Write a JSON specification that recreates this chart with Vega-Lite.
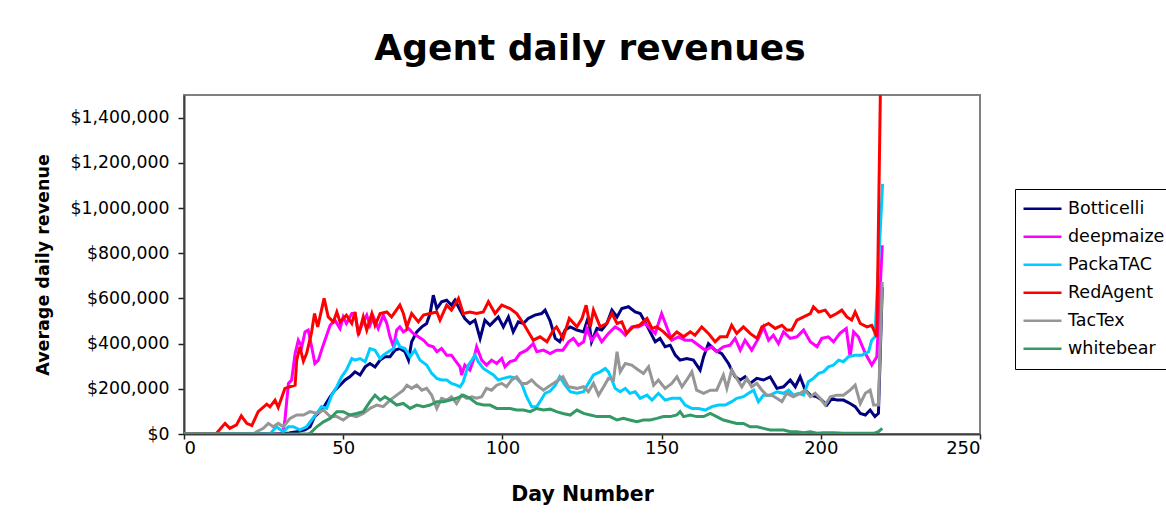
{
  "$schema": "https://vega.github.io/schema/vega-lite/v6.json",
  "width": 796,
  "height": 339,
  "autosize": {"type": "none"},
  "padding": {"left": 184, "top": 95, "right": 186, "bottom": 91},
  "background": "white",
  "title": {"text": "Agent daily revenues", "fontSize": 36, "fontWeight": "bold", "font": "DejaVu Sans", "color": "black", "anchor": "middle", "frame": "group", "offset": 27, "dx": 8},
  "config": {
    "font": "DejaVu Sans",
    "view": {"stroke": "#808080", "strokeWidth": 2},
    "axis": {"grid": false, "domainColor": "#404040", "domainWidth": 2, "tickColor": "#202020", "tickWidth": 1.5, "tickSize": 6, "labelColor": "black", "labelFont": "DejaVu Sans", "titleColor": "black", "titleFont": "DejaVu Sans", "titleFontWeight": "bold"}
  },
  "datasets": {
    "rev": [
      {"s":"Botticelli","d":0,"v":0},{"s":"Botticelli","d":29,"v":0},{"s":"Botticelli","d":33,"v":5000},{"s":"Botticelli","d":35.4,"v":10000},{"s":"Botticelli","d":38,"v":18000},{"s":"Botticelli","d":39.6,"v":32000},{"s":"Botticelli","d":41,"v":77000},{"s":"Botticelli","d":42.7,"v":99000},{"s":"Botticelli","d":44.3,"v":128000},{"s":"Botticelli","d":45.9,"v":165000},{"s":"Botticelli","d":47.4,"v":194000},{"s":"Botticelli","d":49,"v":216000},{"s":"Botticelli","d":50.6,"v":239000},{"s":"Botticelli","d":52.1,"v":253000},{"s":"Botticelli","d":53.7,"v":275000},{"s":"Botticelli","d":55.3,"v":261000},{"s":"Botticelli","d":56.9,"v":297000},{"s":"Botticelli","d":58.4,"v":312000},{"s":"Botticelli","d":60,"v":297000},{"s":"Botticelli","d":61.6,"v":327000},{"s":"Botticelli","d":63.1,"v":342000},{"s":"Botticelli","d":64.7,"v":342000},{"s":"Botticelli","d":66.3,"v":371000},{"s":"Botticelli","d":67.8,"v":378000},{"s":"Botticelli","d":69.4,"v":364000},{"s":"Botticelli","d":70.5,"v":327000},{"s":"Botticelli","d":71.5,"v":408000},{"s":"Botticelli","d":73.1,"v":452000},{"s":"Botticelli","d":74.7,"v":474000},{"s":"Botticelli","d":76.2,"v":489000},{"s":"Botticelli","d":77.3,"v":533000},{"s":"Botticelli","d":78.3,"v":614000},{"s":"Botticelli","d":79.4,"v":555000},{"s":"Botticelli","d":80.9,"v":585000},{"s":"Botticelli","d":82.5,"v":592000},{"s":"Botticelli","d":84,"v":570000},{"s":"Botticelli","d":85.1,"v":592000},{"s":"Botticelli","d":86.7,"v":548000},{"s":"Botticelli","d":88.2,"v":511000},{"s":"Botticelli","d":89.8,"v":489000},{"s":"Botticelli","d":91.4,"v":504000},{"s":"Botticelli","d":93,"v":423000},{"s":"Botticelli","d":94.5,"v":504000},{"s":"Botticelli","d":96.1,"v":481000},{"s":"Botticelli","d":97.7,"v":504000},{"s":"Botticelli","d":98.7,"v":518000},{"s":"Botticelli","d":100.3,"v":474000},{"s":"Botticelli","d":101.9,"v":518000},{"s":"Botticelli","d":103.4,"v":452000},{"s":"Botticelli","d":105,"v":496000},{"s":"Botticelli","d":106.6,"v":489000},{"s":"Botticelli","d":108.1,"v":511000},{"s":"Botticelli","d":110.2,"v":526000},{"s":"Botticelli","d":112.3,"v":533000},{"s":"Botticelli","d":113.4,"v":548000},{"s":"Botticelli","d":115,"v":500000},{"s":"Botticelli","d":116.6,"v":423000},{"s":"Botticelli","d":118,"v":408000},{"s":"Botticelli","d":119.7,"v":460000},{"s":"Botticelli","d":121.3,"v":474000},{"s":"Botticelli","d":123.4,"v":460000},{"s":"Botticelli","d":125.5,"v":452000},{"s":"Botticelli","d":127,"v":518000},{"s":"Botticelli","d":128,"v":408000},{"s":"Botticelli","d":129.7,"v":467000},{"s":"Botticelli","d":131.2,"v":460000},{"s":"Botticelli","d":132.8,"v":489000},{"s":"Botticelli","d":134.4,"v":548000},{"s":"Botticelli","d":136,"v":518000},{"s":"Botticelli","d":137.5,"v":555000},{"s":"Botticelli","d":139.6,"v":563000},{"s":"Botticelli","d":141.7,"v":540000},{"s":"Botticelli","d":143.3,"v":533000},{"s":"Botticelli","d":144.8,"v":496000},{"s":"Botticelli","d":146.4,"v":452000},{"s":"Botticelli","d":148,"v":408000},{"s":"Botticelli","d":149.5,"v":423000},{"s":"Botticelli","d":151.1,"v":386000},{"s":"Botticelli","d":152.7,"v":393000},{"s":"Botticelli","d":154.3,"v":349000},{"s":"Botticelli","d":155.8,"v":327000},{"s":"Botticelli","d":157.9,"v":334000},{"s":"Botticelli","d":160,"v":327000},{"s":"Botticelli","d":162.1,"v":283000},{"s":"Botticelli","d":163.2,"v":342000},{"s":"Botticelli","d":164.7,"v":400000},{"s":"Botticelli","d":166.8,"v":371000},{"s":"Botticelli","d":168.9,"v":356000},{"s":"Botticelli","d":171,"v":312000},{"s":"Botticelli","d":173.1,"v":253000},{"s":"Botticelli","d":174.7,"v":239000},{"s":"Botticelli","d":176.2,"v":253000},{"s":"Botticelli","d":177.8,"v":224000},{"s":"Botticelli","d":179.9,"v":246000},{"s":"Botticelli","d":182,"v":239000},{"s":"Botticelli","d":184.1,"v":253000},{"s":"Botticelli","d":186.2,"v":202000},{"s":"Botticelli","d":188.3,"v":209000},{"s":"Botticelli","d":190.4,"v":239000},{"s":"Botticelli","d":192,"v":209000},{"s":"Botticelli","d":193.5,"v":253000},{"s":"Botticelli","d":195.1,"v":194000},{"s":"Botticelli","d":196.7,"v":172000},{"s":"Botticelli","d":198.8,"v":165000},{"s":"Botticelli","d":200.3,"v":150000},{"s":"Botticelli","d":201.9,"v":128000},{"s":"Botticelli","d":203.5,"v":158000},{"s":"Botticelli","d":205,"v":150000},{"s":"Botticelli","d":207.1,"v":150000},{"s":"Botticelli","d":209.2,"v":135000},{"s":"Botticelli","d":210.8,"v":121000},{"s":"Botticelli","d":212.4,"v":91000},{"s":"Botticelli","d":214,"v":84000},{"s":"Botticelli","d":215.5,"v":106000},{"s":"Botticelli","d":217,"v":77000},{"s":"Botticelli","d":218.1,"v":91000},{"s":"Botticelli","d":219.3,"v":650000},
      {"s":"deepmaize","d":0,"v":0},{"s":"deepmaize","d":31,"v":0},{"s":"deepmaize","d":31.7,"v":62000},{"s":"deepmaize","d":32.8,"v":224000},{"s":"deepmaize","d":33.8,"v":239000},{"s":"deepmaize","d":34.9,"v":356000},{"s":"deepmaize","d":35.9,"v":415000},{"s":"deepmaize","d":37,"v":386000},{"s":"deepmaize","d":38,"v":452000},{"s":"deepmaize","d":39,"v":460000},{"s":"deepmaize","d":40.1,"v":386000},{"s":"deepmaize","d":41.1,"v":312000},{"s":"deepmaize","d":42.2,"v":327000},{"s":"deepmaize","d":43.2,"v":371000},{"s":"deepmaize","d":44.8,"v":437000},{"s":"deepmaize","d":45.9,"v":481000},{"s":"deepmaize","d":47.4,"v":504000},{"s":"deepmaize","d":49,"v":467000},{"s":"deepmaize","d":50,"v":518000},{"s":"deepmaize","d":51,"v":489000},{"s":"deepmaize","d":52.7,"v":533000},{"s":"deepmaize","d":53.7,"v":533000},{"s":"deepmaize","d":54.8,"v":445000},{"s":"deepmaize","d":56.3,"v":496000},{"s":"deepmaize","d":57.4,"v":526000},{"s":"deepmaize","d":58.4,"v":481000},{"s":"deepmaize","d":59.5,"v":518000},{"s":"deepmaize","d":61,"v":467000},{"s":"deepmaize","d":62.6,"v":526000},{"s":"deepmaize","d":63.7,"v":489000},{"s":"deepmaize","d":64.7,"v":430000},{"s":"deepmaize","d":65.8,"v":386000},{"s":"deepmaize","d":66.8,"v":460000},{"s":"deepmaize","d":67.8,"v":474000},{"s":"deepmaize","d":68.9,"v":452000},{"s":"deepmaize","d":70.5,"v":467000},{"s":"deepmaize","d":72,"v":445000},{"s":"deepmaize","d":73.6,"v":430000},{"s":"deepmaize","d":75.2,"v":415000},{"s":"deepmaize","d":76.7,"v":393000},{"s":"deepmaize","d":78.3,"v":386000},{"s":"deepmaize","d":79.4,"v":364000},{"s":"deepmaize","d":80.9,"v":378000},{"s":"deepmaize","d":82.5,"v":349000},{"s":"deepmaize","d":84,"v":349000},{"s":"deepmaize","d":85.1,"v":327000},{"s":"deepmaize","d":86.7,"v":297000},{"s":"deepmaize","d":87.2,"v":261000},{"s":"deepmaize","d":88.2,"v":305000},{"s":"deepmaize","d":89.8,"v":283000},{"s":"deepmaize","d":90.9,"v":327000},{"s":"deepmaize","d":91.9,"v":386000},{"s":"deepmaize","d":93.5,"v":327000},{"s":"deepmaize","d":95,"v":305000},{"s":"deepmaize","d":96.6,"v":327000},{"s":"deepmaize","d":98.2,"v":312000},{"s":"deepmaize","d":99.8,"v":334000},{"s":"deepmaize","d":100.8,"v":297000},{"s":"deepmaize","d":102.4,"v":320000},{"s":"deepmaize","d":104,"v":327000},{"s":"deepmaize","d":105.5,"v":356000},{"s":"deepmaize","d":107.6,"v":371000},{"s":"deepmaize","d":109.7,"v":400000},{"s":"deepmaize","d":110.8,"v":364000},{"s":"deepmaize","d":112.9,"v":371000},{"s":"deepmaize","d":115,"v":356000},{"s":"deepmaize","d":117,"v":371000},{"s":"deepmaize","d":119,"v":371000},{"s":"deepmaize","d":120.8,"v":408000},{"s":"deepmaize","d":122.3,"v":423000},{"s":"deepmaize","d":123.9,"v":393000},{"s":"deepmaize","d":125.5,"v":408000},{"s":"deepmaize","d":126.5,"v":467000},{"s":"deepmaize","d":128,"v":415000},{"s":"deepmaize","d":129.7,"v":445000},{"s":"deepmaize","d":131.2,"v":408000},{"s":"deepmaize","d":133.3,"v":445000},{"s":"deepmaize","d":135.4,"v":474000},{"s":"deepmaize","d":137,"v":460000},{"s":"deepmaize","d":138.6,"v":437000},{"s":"deepmaize","d":140.6,"v":474000},{"s":"deepmaize","d":142.7,"v":474000},{"s":"deepmaize","d":144.8,"v":489000},{"s":"deepmaize","d":146.4,"v":467000},{"s":"deepmaize","d":148,"v":445000},{"s":"deepmaize","d":150,"v":533000},{"s":"deepmaize","d":151.6,"v":474000},{"s":"deepmaize","d":153.2,"v":415000},{"s":"deepmaize","d":155.3,"v":430000},{"s":"deepmaize","d":157.4,"v":415000},{"s":"deepmaize","d":159.5,"v":415000},{"s":"deepmaize","d":161.6,"v":393000},{"s":"deepmaize","d":163.7,"v":371000},{"s":"deepmaize","d":165.8,"v":386000},{"s":"deepmaize","d":167.3,"v":364000},{"s":"deepmaize","d":169.4,"v":386000},{"s":"deepmaize","d":171.5,"v":393000},{"s":"deepmaize","d":173.1,"v":423000},{"s":"deepmaize","d":174.7,"v":371000},{"s":"deepmaize","d":176.2,"v":415000},{"s":"deepmaize","d":178.3,"v":371000},{"s":"deepmaize","d":180.4,"v":423000},{"s":"deepmaize","d":182,"v":474000},{"s":"deepmaize","d":183.6,"v":415000},{"s":"deepmaize","d":185.1,"v":437000},{"s":"deepmaize","d":186.7,"v":400000},{"s":"deepmaize","d":188.3,"v":452000},{"s":"deepmaize","d":190.4,"v":423000},{"s":"deepmaize","d":192.5,"v":430000},{"s":"deepmaize","d":194.6,"v":460000},{"s":"deepmaize","d":196.7,"v":408000},{"s":"deepmaize","d":198.8,"v":386000},{"s":"deepmaize","d":200.3,"v":423000},{"s":"deepmaize","d":202.4,"v":430000},{"s":"deepmaize","d":204,"v":408000},{"s":"deepmaize","d":206,"v":445000},{"s":"deepmaize","d":208,"v":467000},{"s":"deepmaize","d":209.2,"v":342000},{"s":"deepmaize","d":210.3,"v":452000},{"s":"deepmaize","d":211.8,"v":430000},{"s":"deepmaize","d":214,"v":356000},{"s":"deepmaize","d":216,"v":305000},{"s":"deepmaize","d":217.6,"v":342000},{"s":"deepmaize","d":219.3,"v":835000},
      {"s":"PackaTAC","d":0,"v":0},{"s":"PackaTAC","d":27,"v":0},{"s":"PackaTAC","d":29,"v":32000},{"s":"PackaTAC","d":31.2,"v":10000},{"s":"PackaTAC","d":32.8,"v":32000},{"s":"PackaTAC","d":34.3,"v":32000},{"s":"PackaTAC","d":36.4,"v":18000},{"s":"PackaTAC","d":38.5,"v":32000},{"s":"PackaTAC","d":40.1,"v":62000},{"s":"PackaTAC","d":41.7,"v":91000},{"s":"PackaTAC","d":43.2,"v":121000},{"s":"PackaTAC","d":44.8,"v":113000},{"s":"PackaTAC","d":46.4,"v":172000},{"s":"PackaTAC","d":48,"v":209000},{"s":"PackaTAC","d":49.5,"v":253000},{"s":"PackaTAC","d":51,"v":283000},{"s":"PackaTAC","d":52.7,"v":334000},{"s":"PackaTAC","d":53.7,"v":327000},{"s":"PackaTAC","d":55.3,"v":334000},{"s":"PackaTAC","d":56.9,"v":320000},{"s":"PackaTAC","d":58.4,"v":378000},{"s":"PackaTAC","d":60,"v":371000},{"s":"PackaTAC","d":61.6,"v":334000},{"s":"PackaTAC","d":62.6,"v":349000},{"s":"PackaTAC","d":64.2,"v":364000},{"s":"PackaTAC","d":65.8,"v":378000},{"s":"PackaTAC","d":66.8,"v":415000},{"s":"PackaTAC","d":67.8,"v":386000},{"s":"PackaTAC","d":69.4,"v":378000},{"s":"PackaTAC","d":71,"v":342000},{"s":"PackaTAC","d":72.5,"v":371000},{"s":"PackaTAC","d":74.1,"v":327000},{"s":"PackaTAC","d":76.2,"v":305000},{"s":"PackaTAC","d":77.8,"v":268000},{"s":"PackaTAC","d":79.4,"v":246000},{"s":"PackaTAC","d":80.9,"v":239000},{"s":"PackaTAC","d":82.5,"v":239000},{"s":"PackaTAC","d":84,"v":224000},{"s":"PackaTAC","d":85.6,"v":216000},{"s":"PackaTAC","d":86.7,"v":209000},{"s":"PackaTAC","d":87.7,"v":231000},{"s":"PackaTAC","d":89.3,"v":305000},{"s":"PackaTAC","d":90.4,"v":327000},{"s":"PackaTAC","d":91.4,"v":349000},{"s":"PackaTAC","d":92.4,"v":320000},{"s":"PackaTAC","d":94,"v":290000},{"s":"PackaTAC","d":95.6,"v":275000},{"s":"PackaTAC","d":97.2,"v":261000},{"s":"PackaTAC","d":98.7,"v":239000},{"s":"PackaTAC","d":100.3,"v":246000},{"s":"PackaTAC","d":102.4,"v":253000},{"s":"PackaTAC","d":104.5,"v":246000},{"s":"PackaTAC","d":106,"v":224000},{"s":"PackaTAC","d":107.6,"v":165000},{"s":"PackaTAC","d":109.2,"v":121000},{"s":"PackaTAC","d":110.8,"v":121000},{"s":"PackaTAC","d":111.8,"v":143000},{"s":"PackaTAC","d":113.4,"v":180000},{"s":"PackaTAC","d":115,"v":190000},{"s":"PackaTAC","d":116.6,"v":215000},{"s":"PackaTAC","d":118,"v":253000},{"s":"PackaTAC","d":119.7,"v":216000},{"s":"PackaTAC","d":121.3,"v":187000},{"s":"PackaTAC","d":123.4,"v":180000},{"s":"PackaTAC","d":125.5,"v":187000},{"s":"PackaTAC","d":127,"v":224000},{"s":"PackaTAC","d":128.6,"v":261000},{"s":"PackaTAC","d":130.7,"v":275000},{"s":"PackaTAC","d":132.3,"v":290000},{"s":"PackaTAC","d":133.3,"v":275000},{"s":"PackaTAC","d":134.4,"v":239000},{"s":"PackaTAC","d":135.4,"v":202000},{"s":"PackaTAC","d":137,"v":187000},{"s":"PackaTAC","d":138.6,"v":202000},{"s":"PackaTAC","d":140,"v":180000},{"s":"PackaTAC","d":141.7,"v":187000},{"s":"PackaTAC","d":143.3,"v":158000},{"s":"PackaTAC","d":145.4,"v":172000},{"s":"PackaTAC","d":147,"v":150000},{"s":"PackaTAC","d":149,"v":180000},{"s":"PackaTAC","d":151.1,"v":150000},{"s":"PackaTAC","d":153.2,"v":158000},{"s":"PackaTAC","d":155.8,"v":158000},{"s":"PackaTAC","d":157.4,"v":128000},{"s":"PackaTAC","d":159.5,"v":113000},{"s":"PackaTAC","d":161.6,"v":113000},{"s":"PackaTAC","d":163.7,"v":106000},{"s":"PackaTAC","d":165.8,"v":121000},{"s":"PackaTAC","d":167.9,"v":128000},{"s":"PackaTAC","d":170,"v":128000},{"s":"PackaTAC","d":172,"v":143000},{"s":"PackaTAC","d":173.6,"v":158000},{"s":"PackaTAC","d":175.7,"v":165000},{"s":"PackaTAC","d":177.3,"v":180000},{"s":"PackaTAC","d":178.9,"v":194000},{"s":"PackaTAC","d":180.4,"v":143000},{"s":"PackaTAC","d":182,"v":172000},{"s":"PackaTAC","d":184.1,"v":172000},{"s":"PackaTAC","d":186.2,"v":187000},{"s":"PackaTAC","d":188.3,"v":180000},{"s":"PackaTAC","d":189.9,"v":194000},{"s":"PackaTAC","d":191.4,"v":172000},{"s":"PackaTAC","d":193,"v":180000},{"s":"PackaTAC","d":194.6,"v":172000},{"s":"PackaTAC","d":196.1,"v":231000},{"s":"PackaTAC","d":197.7,"v":246000},{"s":"PackaTAC","d":199.3,"v":268000},{"s":"PackaTAC","d":200.8,"v":275000},{"s":"PackaTAC","d":202.4,"v":297000},{"s":"PackaTAC","d":204,"v":305000},{"s":"PackaTAC","d":205.6,"v":327000},{"s":"PackaTAC","d":207.1,"v":320000},{"s":"PackaTAC","d":208.7,"v":342000},{"s":"PackaTAC","d":210.8,"v":349000},{"s":"PackaTAC","d":212.9,"v":349000},{"s":"PackaTAC","d":215,"v":364000},{"s":"PackaTAC","d":216,"v":415000},{"s":"PackaTAC","d":217,"v":430000},{"s":"PackaTAC","d":219.4,"v":1107000},
      {"s":"RedAgent","d":0,"v":0},{"s":"RedAgent","d":10,"v":0},{"s":"RedAgent","d":12.9,"v":47000},{"s":"RedAgent","d":14.4,"v":25000},{"s":"RedAgent","d":16.5,"v":40000},{"s":"RedAgent","d":18,"v":80000},{"s":"RedAgent","d":19.7,"v":47000},{"s":"RedAgent","d":21.3,"v":37000},{"s":"RedAgent","d":23.3,"v":99000},{"s":"RedAgent","d":26,"v":132000},{"s":"RedAgent","d":27,"v":120000},{"s":"RedAgent","d":28.6,"v":150000},{"s":"RedAgent","d":29.6,"v":118000},{"s":"RedAgent","d":31.7,"v":202000},{"s":"RedAgent","d":34.9,"v":216000},{"s":"RedAgent","d":35.4,"v":327000},{"s":"RedAgent","d":36.4,"v":386000},{"s":"RedAgent","d":37.5,"v":322000},{"s":"RedAgent","d":38.5,"v":356000},{"s":"RedAgent","d":40,"v":445000},{"s":"RedAgent","d":41,"v":533000},{"s":"RedAgent","d":42,"v":474000},{"s":"RedAgent","d":44,"v":600000},{"s":"RedAgent","d":45.3,"v":518000},{"s":"RedAgent","d":46.9,"v":496000},{"s":"RedAgent","d":48,"v":540000},{"s":"RedAgent","d":49,"v":496000},{"s":"RedAgent","d":51,"v":526000},{"s":"RedAgent","d":52.7,"v":489000},{"s":"RedAgent","d":53.7,"v":540000},{"s":"RedAgent","d":54.8,"v":437000},{"s":"RedAgent","d":56.3,"v":518000},{"s":"RedAgent","d":57.4,"v":460000},{"s":"RedAgent","d":59,"v":533000},{"s":"RedAgent","d":60,"v":481000},{"s":"RedAgent","d":61.6,"v":533000},{"s":"RedAgent","d":63.7,"v":540000},{"s":"RedAgent","d":65.2,"v":518000},{"s":"RedAgent","d":67.8,"v":570000},{"s":"RedAgent","d":68.9,"v":533000},{"s":"RedAgent","d":70,"v":474000},{"s":"RedAgent","d":71.5,"v":533000},{"s":"RedAgent","d":73.6,"v":496000},{"s":"RedAgent","d":75.2,"v":526000},{"s":"RedAgent","d":77.3,"v":533000},{"s":"RedAgent","d":79.4,"v":540000},{"s":"RedAgent","d":80.4,"v":504000},{"s":"RedAgent","d":82.5,"v":570000},{"s":"RedAgent","d":84,"v":548000},{"s":"RedAgent","d":86.2,"v":600000},{"s":"RedAgent","d":87.7,"v":533000},{"s":"RedAgent","d":89.8,"v":540000},{"s":"RedAgent","d":91.9,"v":533000},{"s":"RedAgent","d":94,"v":540000},{"s":"RedAgent","d":95.6,"v":585000},{"s":"RedAgent","d":97.7,"v":533000},{"s":"RedAgent","d":99.8,"v":570000},{"s":"RedAgent","d":102.4,"v":555000},{"s":"RedAgent","d":104.5,"v":533000},{"s":"RedAgent","d":106.6,"v":489000},{"s":"RedAgent","d":109.7,"v":415000},{"s":"RedAgent","d":111.8,"v":430000},{"s":"RedAgent","d":114,"v":408000},{"s":"RedAgent","d":116,"v":460000},{"s":"RedAgent","d":117,"v":474000},{"s":"RedAgent","d":119,"v":423000},{"s":"RedAgent","d":121,"v":511000},{"s":"RedAgent","d":123.4,"v":474000},{"s":"RedAgent","d":125,"v":511000},{"s":"RedAgent","d":126.3,"v":570000},{"s":"RedAgent","d":127.6,"v":474000},{"s":"RedAgent","d":128.6,"v":548000},{"s":"RedAgent","d":130.7,"v":474000},{"s":"RedAgent","d":132.8,"v":489000},{"s":"RedAgent","d":134.4,"v":533000},{"s":"RedAgent","d":136,"v":489000},{"s":"RedAgent","d":137.5,"v":496000},{"s":"RedAgent","d":139,"v":445000},{"s":"RedAgent","d":141,"v":474000},{"s":"RedAgent","d":143,"v":481000},{"s":"RedAgent","d":145.4,"v":511000},{"s":"RedAgent","d":147,"v":467000},{"s":"RedAgent","d":148.5,"v":474000},{"s":"RedAgent","d":150.6,"v":452000},{"s":"RedAgent","d":152.7,"v":423000},{"s":"RedAgent","d":154.8,"v":452000},{"s":"RedAgent","d":156.9,"v":430000},{"s":"RedAgent","d":159,"v":452000},{"s":"RedAgent","d":160.5,"v":437000},{"s":"RedAgent","d":162.6,"v":474000},{"s":"RedAgent","d":164.7,"v":445000},{"s":"RedAgent","d":166.8,"v":408000},{"s":"RedAgent","d":168.4,"v":430000},{"s":"RedAgent","d":170.5,"v":430000},{"s":"RedAgent","d":172,"v":481000},{"s":"RedAgent","d":173.6,"v":445000},{"s":"RedAgent","d":175.7,"v":474000},{"s":"RedAgent","d":177.8,"v":445000},{"s":"RedAgent","d":180,"v":423000},{"s":"RedAgent","d":181.5,"v":474000},{"s":"RedAgent","d":183.6,"v":489000},{"s":"RedAgent","d":185.7,"v":467000},{"s":"RedAgent","d":187.8,"v":481000},{"s":"RedAgent","d":189.3,"v":460000},{"s":"RedAgent","d":190.9,"v":460000},{"s":"RedAgent","d":192.5,"v":504000},{"s":"RedAgent","d":194.6,"v":518000},{"s":"RedAgent","d":196.7,"v":533000},{"s":"RedAgent","d":197.7,"v":563000},{"s":"RedAgent","d":199.3,"v":540000},{"s":"RedAgent","d":201.4,"v":548000},{"s":"RedAgent","d":203,"v":518000},{"s":"RedAgent","d":205,"v":533000},{"s":"RedAgent","d":206.6,"v":548000},{"s":"RedAgent","d":208.2,"v":518000},{"s":"RedAgent","d":209.7,"v":504000},{"s":"RedAgent","d":210.8,"v":540000},{"s":"RedAgent","d":212.4,"v":489000},{"s":"RedAgent","d":214.5,"v":474000},{"s":"RedAgent","d":216,"v":481000},{"s":"RedAgent","d":217.6,"v":430000},{"s":"RedAgent","d":218.8,"v":1600000},
      {"s":"TacTex","d":0,"v":0},{"s":"TacTex","d":21.8,"v":0},{"s":"TacTex","d":22.8,"v":10000},{"s":"TacTex","d":24.9,"v":25000},{"s":"TacTex","d":26.5,"v":47000},{"s":"TacTex","d":28,"v":32000},{"s":"TacTex","d":29.6,"v":47000},{"s":"TacTex","d":31.2,"v":32000},{"s":"TacTex","d":33.3,"v":69000},{"s":"TacTex","d":35.4,"v":84000},{"s":"TacTex","d":37.5,"v":84000},{"s":"TacTex","d":39.6,"v":99000},{"s":"TacTex","d":41.7,"v":91000},{"s":"TacTex","d":43.8,"v":106000},{"s":"TacTex","d":45.9,"v":77000},{"s":"TacTex","d":48,"v":77000},{"s":"TacTex","d":50,"v":62000},{"s":"TacTex","d":52.1,"v":84000},{"s":"TacTex","d":54.2,"v":77000},{"s":"TacTex","d":56.3,"v":91000},{"s":"TacTex","d":58.4,"v":113000},{"s":"TacTex","d":60.5,"v":128000},{"s":"TacTex","d":62.6,"v":121000},{"s":"TacTex","d":64.7,"v":150000},{"s":"TacTex","d":66.8,"v":172000},{"s":"TacTex","d":68.9,"v":194000},{"s":"TacTex","d":70,"v":216000},{"s":"TacTex","d":71.5,"v":202000},{"s":"TacTex","d":73.1,"v":216000},{"s":"TacTex","d":74.7,"v":194000},{"s":"TacTex","d":76.2,"v":202000},{"s":"TacTex","d":77.8,"v":172000},{"s":"TacTex","d":79.4,"v":113000},{"s":"TacTex","d":80.9,"v":158000},{"s":"TacTex","d":82.5,"v":150000},{"s":"TacTex","d":84,"v":165000},{"s":"TacTex","d":85.6,"v":135000},{"s":"TacTex","d":87.2,"v":172000},{"s":"TacTex","d":88.8,"v":158000},{"s":"TacTex","d":90.4,"v":165000},{"s":"TacTex","d":91.9,"v":158000},{"s":"TacTex","d":93.5,"v":165000},{"s":"TacTex","d":95,"v":202000},{"s":"TacTex","d":96.6,"v":194000},{"s":"TacTex","d":98.2,"v":216000},{"s":"TacTex","d":99.8,"v":224000},{"s":"TacTex","d":101.3,"v":209000},{"s":"TacTex","d":102.9,"v":239000},{"s":"TacTex","d":104.5,"v":253000},{"s":"TacTex","d":106,"v":224000},{"s":"TacTex","d":107.6,"v":224000},{"s":"TacTex","d":109.2,"v":239000},{"s":"TacTex","d":110.8,"v":216000},{"s":"TacTex","d":112.9,"v":194000},{"s":"TacTex","d":114.4,"v":209000},{"s":"TacTex","d":116,"v":224000},{"s":"TacTex","d":117.6,"v":239000},{"s":"TacTex","d":119,"v":253000},{"s":"TacTex","d":120.7,"v":209000},{"s":"TacTex","d":123.4,"v":202000},{"s":"TacTex","d":125.5,"v":209000},{"s":"TacTex","d":127,"v":187000},{"s":"TacTex","d":128.6,"v":224000},{"s":"TacTex","d":130.2,"v":172000},{"s":"TacTex","d":131.8,"v":209000},{"s":"TacTex","d":133.3,"v":246000},{"s":"TacTex","d":134.9,"v":239000},{"s":"TacTex","d":136,"v":364000},{"s":"TacTex","d":137,"v":275000},{"s":"TacTex","d":138.6,"v":312000},{"s":"TacTex","d":140.6,"v":305000},{"s":"TacTex","d":142.7,"v":283000},{"s":"TacTex","d":144.3,"v":268000},{"s":"TacTex","d":145.9,"v":297000},{"s":"TacTex","d":147.5,"v":216000},{"s":"TacTex","d":149,"v":239000},{"s":"TacTex","d":151.1,"v":202000},{"s":"TacTex","d":153.2,"v":224000},{"s":"TacTex","d":154.8,"v":253000},{"s":"TacTex","d":156.4,"v":209000},{"s":"TacTex","d":157.9,"v":239000},{"s":"TacTex","d":159.5,"v":275000},{"s":"TacTex","d":161,"v":194000},{"s":"TacTex","d":163.2,"v":180000},{"s":"TacTex","d":165.3,"v":194000},{"s":"TacTex","d":167.3,"v":194000},{"s":"TacTex","d":169.4,"v":261000},{"s":"TacTex","d":170.5,"v":202000},{"s":"TacTex","d":172,"v":283000},{"s":"TacTex","d":173.6,"v":246000},{"s":"TacTex","d":175.2,"v":209000},{"s":"TacTex","d":176.8,"v":246000},{"s":"TacTex","d":178.3,"v":209000},{"s":"TacTex","d":179.9,"v":224000},{"s":"TacTex","d":181.5,"v":194000},{"s":"TacTex","d":183,"v":172000},{"s":"TacTex","d":184.6,"v":172000},{"s":"TacTex","d":186.2,"v":158000},{"s":"TacTex","d":187.8,"v":143000},{"s":"TacTex","d":189.3,"v":180000},{"s":"TacTex","d":191.4,"v":165000},{"s":"TacTex","d":193.5,"v":180000},{"s":"TacTex","d":195.1,"v":194000},{"s":"TacTex","d":196.7,"v":165000},{"s":"TacTex","d":198.2,"v":180000},{"s":"TacTex","d":199.8,"v":158000},{"s":"TacTex","d":201.4,"v":128000},{"s":"TacTex","d":203,"v":165000},{"s":"TacTex","d":205,"v":172000},{"s":"TacTex","d":207.1,"v":172000},{"s":"TacTex","d":209.2,"v":194000},{"s":"TacTex","d":210.8,"v":216000},{"s":"TacTex","d":212.4,"v":135000},{"s":"TacTex","d":214,"v":180000},{"s":"TacTex","d":215.5,"v":194000},{"s":"TacTex","d":216.6,"v":128000},{"s":"TacTex","d":218.1,"v":128000},{"s":"TacTex","d":219.3,"v":673000},
      {"s":"whitebear","d":0,"v":0},{"s":"whitebear","d":39,"v":0},{"s":"whitebear","d":39.6,"v":3000},{"s":"whitebear","d":41.7,"v":32000},{"s":"whitebear","d":43.8,"v":54000},{"s":"whitebear","d":45.9,"v":69000},{"s":"whitebear","d":48,"v":99000},{"s":"whitebear","d":50,"v":99000},{"s":"whitebear","d":52.1,"v":84000},{"s":"whitebear","d":54.2,"v":91000},{"s":"whitebear","d":56.3,"v":99000},{"s":"whitebear","d":58.4,"v":143000},{"s":"whitebear","d":60,"v":172000},{"s":"whitebear","d":61.6,"v":150000},{"s":"whitebear","d":63.1,"v":165000},{"s":"whitebear","d":64.7,"v":150000},{"s":"whitebear","d":66.8,"v":128000},{"s":"whitebear","d":68.9,"v":135000},{"s":"whitebear","d":71,"v":113000},{"s":"whitebear","d":73.1,"v":128000},{"s":"whitebear","d":75.2,"v":121000},{"s":"whitebear","d":77.3,"v":128000},{"s":"whitebear","d":79.4,"v":143000},{"s":"whitebear","d":81.5,"v":143000},{"s":"whitebear","d":83.6,"v":150000},{"s":"whitebear","d":85.6,"v":158000},{"s":"whitebear","d":87.7,"v":172000},{"s":"whitebear","d":89.8,"v":158000},{"s":"whitebear","d":91.9,"v":135000},{"s":"whitebear","d":94,"v":128000},{"s":"whitebear","d":96.1,"v":128000},{"s":"whitebear","d":98.2,"v":113000},{"s":"whitebear","d":100.3,"v":113000},{"s":"whitebear","d":102.4,"v":113000},{"s":"whitebear","d":104.5,"v":106000},{"s":"whitebear","d":106.6,"v":106000},{"s":"whitebear","d":108.7,"v":99000},{"s":"whitebear","d":110.8,"v":113000},{"s":"whitebear","d":112.9,"v":106000},{"s":"whitebear","d":115,"v":110000},{"s":"whitebear","d":117,"v":99000},{"s":"whitebear","d":119,"v":91000},{"s":"whitebear","d":121.3,"v":84000},{"s":"whitebear","d":123.4,"v":106000},{"s":"whitebear","d":125.5,"v":91000},{"s":"whitebear","d":127.6,"v":84000},{"s":"whitebear","d":129.7,"v":77000},{"s":"whitebear","d":131.8,"v":77000},{"s":"whitebear","d":133.8,"v":77000},{"s":"whitebear","d":136,"v":62000},{"s":"whitebear","d":138,"v":69000},{"s":"whitebear","d":140,"v":62000},{"s":"whitebear","d":142.2,"v":54000},{"s":"whitebear","d":144.3,"v":62000},{"s":"whitebear","d":146.4,"v":62000},{"s":"whitebear","d":148.5,"v":69000},{"s":"whitebear","d":150.6,"v":77000},{"s":"whitebear","d":152.7,"v":77000},{"s":"whitebear","d":154.8,"v":84000},{"s":"whitebear","d":155.8,"v":99000},{"s":"whitebear","d":156.9,"v":77000},{"s":"whitebear","d":159,"v":84000},{"s":"whitebear","d":161,"v":77000},{"s":"whitebear","d":163.2,"v":77000},{"s":"whitebear","d":165.3,"v":91000},{"s":"whitebear","d":167.3,"v":77000},{"s":"whitebear","d":169.4,"v":62000},{"s":"whitebear","d":171.5,"v":54000},{"s":"whitebear","d":173.6,"v":47000},{"s":"whitebear","d":175.7,"v":47000},{"s":"whitebear","d":177.8,"v":32000},{"s":"whitebear","d":180,"v":32000},{"s":"whitebear","d":182,"v":25000},{"s":"whitebear","d":184.1,"v":18000},{"s":"whitebear","d":186.2,"v":18000},{"s":"whitebear","d":188.3,"v":18000},{"s":"whitebear","d":190.4,"v":10000},{"s":"whitebear","d":192.5,"v":10000},{"s":"whitebear","d":194.6,"v":6000},{"s":"whitebear","d":196.7,"v":10000},{"s":"whitebear","d":198.8,"v":3000},{"s":"whitebear","d":200.8,"v":6000},{"s":"whitebear","d":204,"v":6000},{"s":"whitebear","d":207,"v":3000},{"s":"whitebear","d":210.3,"v":3000},{"s":"whitebear","d":213.4,"v":3000},{"s":"whitebear","d":216.6,"v":3000},{"s":"whitebear","d":218.1,"v":10000},{"s":"whitebear","d":219.3,"v":25000}
    ]
  },
  "data": {"name": "rev"},
  "mark": {"type": "line", "strokeWidth": 3, "clip": true},
  "encoding": {
    "x": {"field": "d", "type": "quantitative", "scale": {"domain": [0, 250], "nice": false}, "axis": {"values": [0, 50, 100, 150, 200, 250], "title": "Day Number", "titleFontSize": 20.5, "titlePadding": 27, "labelPadding": 0, "tickSize": 5, "labelFontSize": 18}},
    "y": {"field": "v", "type": "quantitative", "scale": {"domain": [0, 1500000], "nice": false}, "axis": {"values": [0, 200000, 400000, 600000, 800000, 1000000, 1200000, 1400000], "format": "$,.0f", "title": "Average daily revenue", "titleFontSize": 17.5, "titlePadding": 18, "labelPadding": 9, "labelFontSize": 17.3}},
    "color": {"field": "s", "type": "nominal", "scale": {"domain": ["Botticelli", "deepmaize", "PackaTAC", "RedAgent", "TacTex", "whitebear"], "range": ["#000080", "#FF00FF", "#00CCFF", "#FF0000", "#969696", "#339966"]}, "legend": {"title": null, "orient": "none", "legendX": 831, "legendY": 94, "strokeColor": "black", "padding": 7, "symbolType": "stroke", "symbolSize": 1444, "symbolStrokeWidth": 2.5, "clipHeight": 25.5, "rowPadding": 2, "labelFontSize": 17.5, "labelFont": "DejaVu Sans", "labelColor": "black", "labelOffset": 5}}
  }
}
